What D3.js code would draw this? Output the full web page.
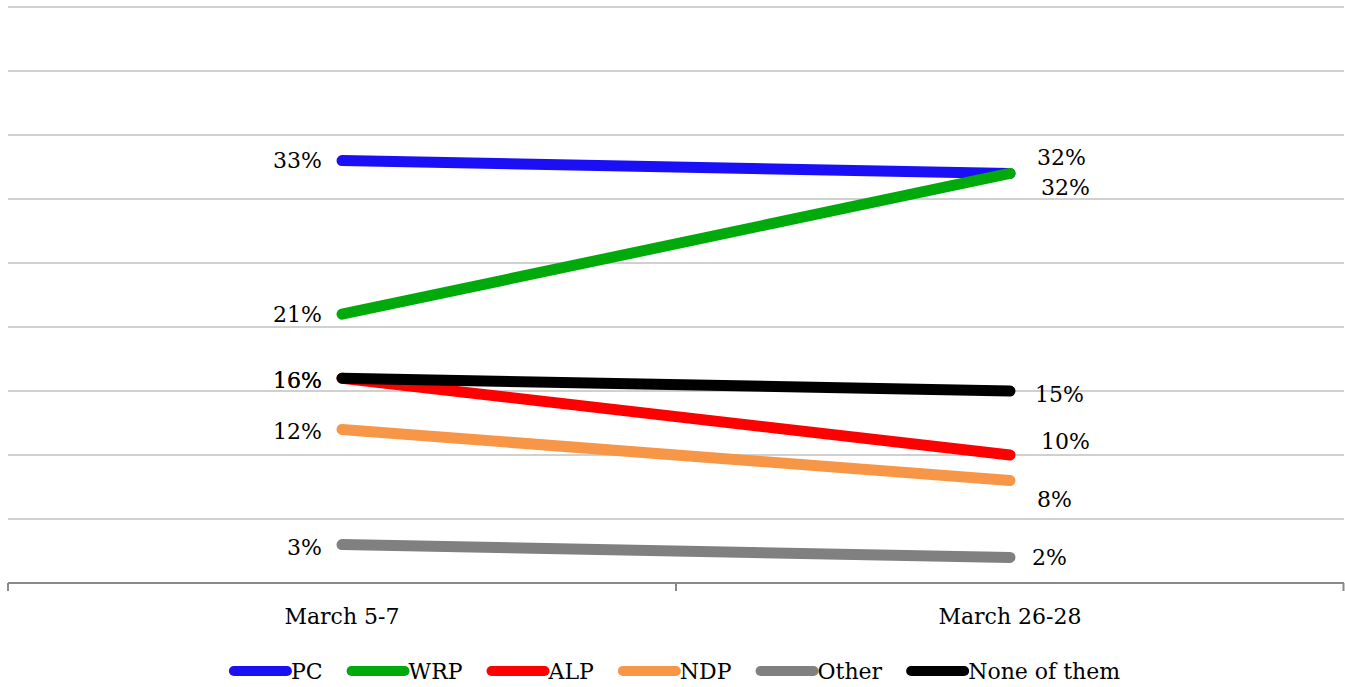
<!DOCTYPE html>
<html>
<head>
<meta charset="utf-8">
<script src="https://cdn.jsdelivr.net/npm/d3@7"></script>
<style>
  html, body { margin: 0; padding: 0; background: #fff; }
  svg { display: block; }
  text { font-family: "DejaVu Serif", serif; fill: #000; }
</style>
</head>
<body>
<svg id="chart" width="1345" height="687"></svg>
<script>
// ---- data ----
const categories = ["March 5-7", "March 26-28"];
const seriesNames = ["PC", "WRP", "ALP", "NDP", "Other", "None of them"];
const pcValues    = [33, 32];
const wrpValues   = [21, 32];
const alpValues   = [16, 10];
const ndpValues   = [12, 8];
const otherValues = [3, 2];
const noneValues  = [16, 15];
const yTicks = [0, 5, 10, 15, 20, 25, 30, 35, 40, 45];

// ---- styling ----
const colors = ["#1a0ff5", "#00aa0b", "#ff0000", "#f79646", "#808080", "#000000"];
// label nudges (pixels) [left, right]
const labelDy = [[0, -16], [0, 14], [2, -14], [2, 19], [3, 0], [2, 3]];
const labelDxRight = [5, 9, 9, 5, 0, 3];

const seriesValues = [pcValues, wrpValues, alpValues, ndpValues, otherValues, noneValues];
const series = seriesNames.map((n, i) => ({ name: n, values: seriesValues[i], color: colors[i], idx: i }));

const svg = d3.select("#chart");
const margin = { left: 8, right: 1, top: 7, bottom: 104 };
const W = 1345, H = 687;

const x = d3.scaleBand().domain(categories).range([margin.left, W - margin.right]).padding(0);
const y = d3.scaleLinear().domain([0, 45]).range([H - margin.bottom, margin.top]);
const cx = c => x(c) + x.bandwidth() / 2;

// gridlines
svg.append("g")
  .selectAll("line")
  .data(yTicks.filter(t => t > 0))
  .join("line")
  .attr("x1", margin.left).attr("x2", W - margin.right)
  .attr("y1", d => y(d)).attr("y2", d => y(d))
  .attr("stroke", "#d0d0d0").attr("stroke-width", 2);

// x axis
const gx = svg.append("g").attr("transform", `translate(0,${y(0)})`);
gx.append("line")
  .attr("x1", margin.left).attr("x2", W - margin.right)
  .attr("y1", 0).attr("y2", 0)
  .attr("stroke", "#898989").attr("stroke-width", 2);
const boundaries = [margin.left, ...categories.map(c => x(c) + x.bandwidth())];
gx.selectAll("line.tick")
  .data(boundaries)
  .join("line")
  .attr("class", "tick")
  .attr("x1", d => Math.min(d, W - 1.5)).attr("x2", d => Math.min(d, W - 1.5))
  .attr("y1", 0).attr("y2", 8)
  .attr("stroke", "#898989").attr("stroke-width", 2);
gx.selectAll("text.cat")
  .data(categories)
  .join("text")
  .attr("class", "cat")
  .attr("x", d => cx(d))
  .attr("y", 41)
  .attr("text-anchor", "middle")
  .attr("font-size", 22)
  .text(d => d);

// lines
const line = d3.line().x((d, i) => cx(categories[i])).y(d => y(d));
svg.append("g")
  .selectAll("path")
  .data(series)
  .join("path")
  .attr("d", d => line(d.values))
  .attr("fill", "none")
  .attr("stroke", d => d.color)
  .attr("stroke-width", 11)
  .attr("stroke-linecap", "round");

// data labels
const lg = svg.append("g");
series.forEach(s => {
  lg.append("text")
    .attr("x", cx(categories[0]) - 20)
    .attr("y", y(s.values[0]) + labelDy[s.idx][0])
    .attr("dy", "0.35em")
    .attr("text-anchor", "end")
    .attr("font-size", 22)
    .text(s.values[0] + "%");
  lg.append("text")
    .attr("x", cx(categories[1]) + 22 + labelDxRight[s.idx])
    .attr("y", y(s.values[1]) + labelDy[s.idx][1])
    .attr("dy", "0.35em")
    .attr("text-anchor", "start")
    .attr("font-size", 22)
    .text(s.values[1] + "%");
});

// legend
const legend = svg.append("g").attr("transform", `translate(0, 671)`);
const items = legend.selectAll("g").data(series).join("g");
items.append("line")
  .attr("x1", 5).attr("x2", 58)
  .attr("y1", 0).attr("y2", 0)
  .attr("stroke", d => d.color)
  .attr("stroke-width", 10)
  .attr("stroke-linecap", "round");
items.append("text")
  .attr("x", 62).attr("y", 0).attr("dy", "0.35em")
  .attr("font-size", 22)
  .text(d => d.name);
let widths = [];
items.each(function () { widths.push(62 + d3.select(this).select("text").node().getComputedTextLength()); });
const gap = 24;
const total = d3.sum(widths) + gap * (widths.length - 1);
let start = (W - total) / 2 + 2;
items.attr("transform", (d, i) => {
  const t = `translate(${start},0)`;
  start += widths[i] + gap;
  return t;
});
</script>
</body>
</html>
